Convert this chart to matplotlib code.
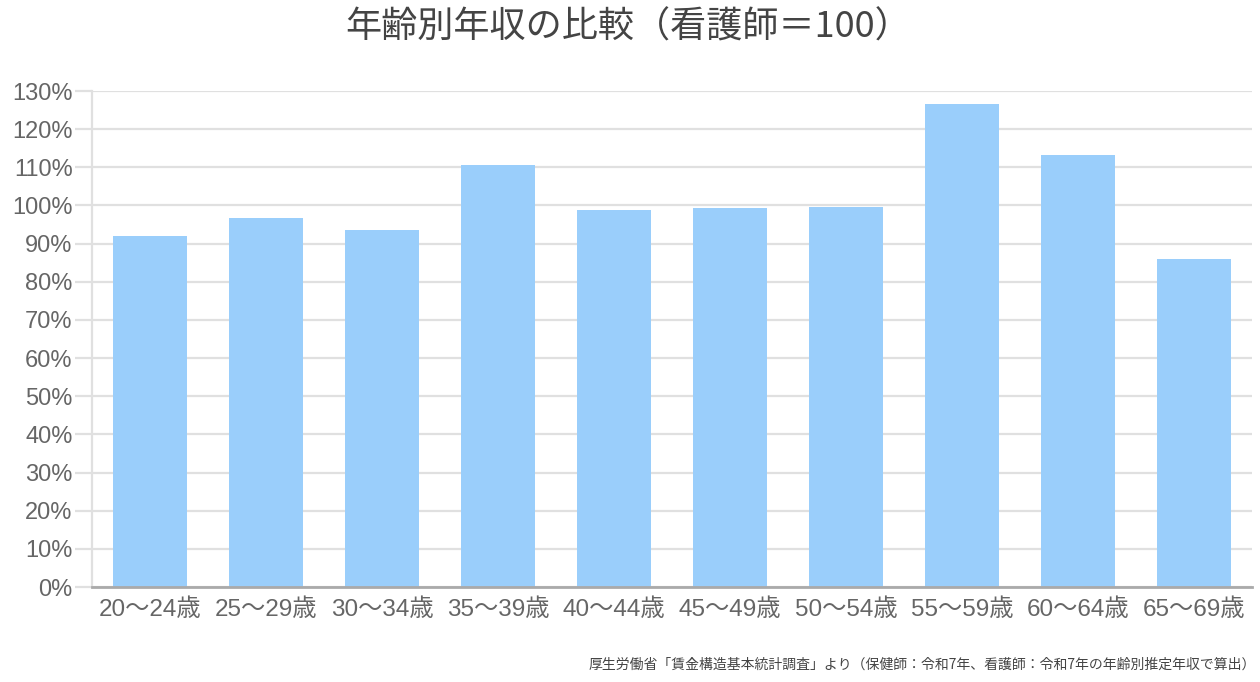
import matplotlib

matplotlib.use("Agg")
import matplotlib.pyplot as plt
import numpy as np
from matplotlib.ticker import FuncFormatter, MultipleLocator

plt.rcParams["font.family"] = ["Liberation Sans", "Noto Sans CJK JP", "DejaVu Sans"]

AGE_GROUPS = ["20～24歳", "25～29歳", "30～34歳", "35～39歳", "40～44歳",
              "45～49歳", "50～54歳", "55～59歳", "60～64歳", "65～69歳"]
RATIO = [91.9, 96.7, 93.6, 110.5, 98.9, 99.4, 99.7, 126.6, 113.1, 86.0]

TITLE = "年齢別年収の比較（看護師＝100）"
NOTE = "厚生労働省「賃金構造基本統計調査」より（保健師：令和7年、看護師：令和7年の年齢別推定年収で算出）"

BAR = "#9ACEFB"
GRID = "#E0E0E0"
TEXT = "#666666"

fig = plt.figure(figsize=(12.6, 6.82), dpi=100)
ax = fig.add_axes([92 / 1260, 1 - 587 / 682, 1160 / 1260, (587 - 91) / 682])

x = np.arange(len(AGE_GROUPS))
ax.bar(x, RATIO, width=0.63, color=BAR, zorder=2)

ax.set_xlim(-0.5, len(AGE_GROUPS) - 0.5)
ax.set_ylim(0, 130)
ax.yaxis.set_major_locator(MultipleLocator(10))
ax.yaxis.set_major_formatter(FuncFormatter(lambda v, _: f"{v:.0f}%"))
ax.set_xticks(x)
ax.set_xticklabels(AGE_GROUPS)

ax.grid(axis="y", color=GRID, lw=1.6, zorder=0)
ax.tick_params(axis="y", length=12, width=1.6, color=GRID, labelsize=17,
               labelcolor=TEXT, pad=2)
ax.tick_params(axis="x", length=0, labelsize=17.5, labelcolor=TEXT, pad=8)

for side in ("top", "right"):
    ax.spines[side].set_visible(False)
ax.spines["left"].set_color(GRID)
ax.spines["left"].set_linewidth(1.6)
ax.spines["bottom"].set_color("#AAAAAA")
ax.spines["bottom"].set_linewidth(2)
ax.spines["bottom"].set_zorder(3)

fig.text(0.5 - 2 / 1260, 1 - 28 / 682, TITLE, ha="center", va="center", fontsize=26,
         color="#444444", family=["Noto Sans CJK JP", "DejaVu Sans"])
fig.text(1256 / 1260, 1 - 665 / 682, NOTE, ha="right", va="center", fontsize=10,
         color="#444444", family=["Noto Sans CJK JP", "DejaVu Sans"])

fig.savefig("out.png", dpi=100, facecolor="white")
